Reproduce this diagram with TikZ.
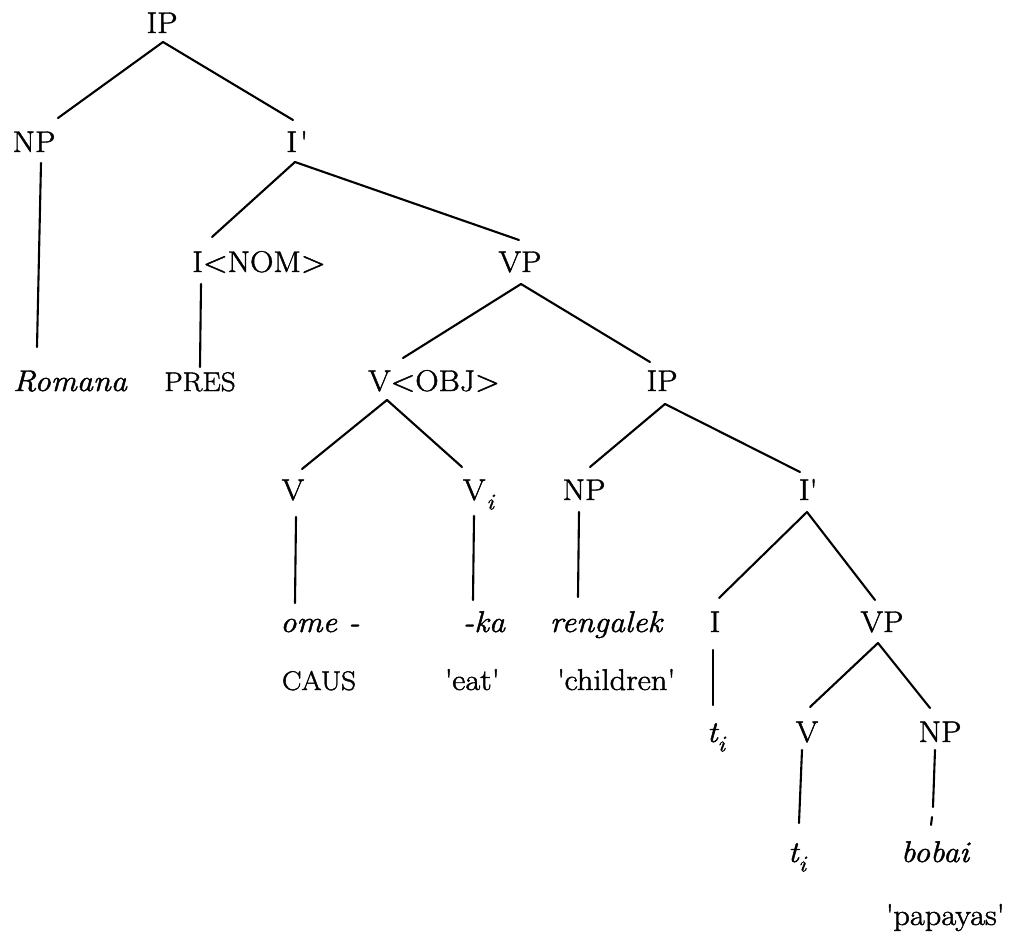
\documentclass[tikz,border=0pt]{standalone}
\usepackage{fontspec}
\setmainfont{Latin Modern Roman}[FakeStretch=1.08,FakeBold=1.5]
\begin{document}
\begin{tikzpicture}[x=1pt,y=-1pt,
  lab/.style={inner sep=0pt,outer sep=0pt,font=\fontsize{30}{35}\selectfont},
  word/.style={lab,font=\fontsize{30}{35}\selectfont\itshape},
  gloss/.style={lab,font=\fontsize{27}{32}\selectfont},
  branch/.style={line width=2.1pt,line cap=round}]
\useasboundingbox[fill=white] (0,0) rectangle (1010,940);
\newcommand{\qs}{\textquotesingle}
\newcommand{\idx}{\raisebox{-0.32em}{\fontsize{23}{23}\selectfont\itshape i}}

% category labels, placed on their baselines
\node[lab,anchor=base] (IPa) at (162,33) {IP};
\node[lab,anchor=base] (NPa) at (34,152) {NP};
\node[lab,anchor=base] (Ibar) at (297,152) {I\kern3pt\qs};
\node[lab,anchor=base] (INOM) at (259,272) {I<NOM>};
\node[lab,anchor=base] (VPa) at (520,272) {VP};
\node[word,anchor=base] (Romana) at (70,391) {Romana};
\node[gloss,anchor=base] (PRES) at (200,391) {PRES};
\node[lab,anchor=base] (VOBJ) at (434,391) {V<OBJ>};
\node[lab,anchor=base] (IPb) at (662,391) {IP};
\node[lab,anchor=base] (Va) at (293,500) {V};
\node[lab,anchor=base west] (Vi) at (463,500) {V\kern1pt\idx};
\node[lab,anchor=base] (NPb) at (584,500) {NP};
\node[lab,anchor=base] (Ibarb) at (808,500) {I\qs};
\node[word,anchor=base] (ome) at (320,632) {ome -};
\node[word,anchor=base] (ka) at (484,632) {-ka};
\node[word,anchor=base] (rengalek) at (606,632) {rengalek};
\node[lab,anchor=base] (Ib) at (715,632) {I};
\node[lab,anchor=base] (VPb) at (882,632) {VP};
\node[gloss,anchor=base] (CAUS) at (319,690) {CAUS};
\node[lab,anchor=base] (eat) at (472,690) {\qs eat\qs};
\node[lab,anchor=base] (children) at (616,690) {\qs children\qs};
\node[word,anchor=base west] (tia) at (707,742) {t\idx};
\node[lab,anchor=base] (Vc) at (807,742) {V};
\node[lab,anchor=base] (NPc) at (940,742) {NP};
\node[word,anchor=base west] (tib) at (788,862) {t\idx};
\node[word,anchor=base] (bobai) at (935,862) {bobai};
\node[lab,anchor=base] (papayas) at (945,925) {\qs papayas\qs};

% branches
\draw[branch] ([shift={(1,9)}]IPa.base) -- ([shift={(24,-34)}]NPa.base);
\draw[branch] ([shift={(1,9)}]IPa.base) -- ([shift={(-4,-32)}]Ibar.base);
\draw[branch] ([shift={(7,11)}]NPa.base) -- ([shift={(-33,-44)}]Romana.base);
\draw[branch] ([shift={(-2,10)}]Ibar.base) -- ([shift={(-47,-35)}]INOM.base);
\draw[branch] ([shift={(-2,10)}]Ibar.base) -- ([shift={(-1,-32)}]VPa.base);
\draw[branch] ([shift={(-58,12)}]INOM.base) -- ([shift={(0,-24)}]PRES.base);
\draw[branch] ([shift={(1,12)}]VPa.base) -- ([shift={(-31,-33)}]VOBJ.base);
\draw[branch] ([shift={(1,12)}]VPa.base) -- ([shift={(-12,-29)}]IPb.base);
\draw[branch] ([shift={(-47,9)}]VOBJ.base) -- ([shift={(9,-31)}]Va.base);
\draw[branch] ([shift={(-47,9)}]VOBJ.base) -- ([shift={(-1,-33)}]Vi.base west);
\draw[branch] ([shift={(3,13)}]IPb.base) -- ([shift={(6,-33)}]NPb.base);
\draw[branch] ([shift={(3,13)}]IPb.base) -- ([shift={(-8,-28)}]Ibarb.base);
\draw[branch] ([shift={(3,17)}]Va.base) -- ([shift={(-25,-29)}]ome.base);
\draw[branch] ([shift={(11,16)}]Vi.base west) -- ([shift={(-11,-32)}]ka.base);
\draw[branch] ([shift={(-5,12)}]NPb.base) -- ([shift={(-28,-35)}]rengalek.base);
\draw[branch] ([shift={(-1,12)}]Ibarb.base) -- ([shift={(4,-34)}]Ib.base);
\draw[branch] ([shift={(-1,12)}]Ibarb.base) -- ([shift={(-7,-32)}]VPb.base);
\draw[branch] ([shift={(-2,18)}]Ib.base) -- ([shift={(6,-37)}]tia.base west);
\draw[branch] ([shift={(-4,11)}]VPb.base) -- ([shift={(3,-35)}]Vc.base);
\draw[branch] ([shift={(-4,11)}]VPb.base) -- ([shift={(-10,-34)}]NPc.base);
\draw[branch] ([shift={(-5,8)}]Vc.base) -- ([shift={(11,-39)}]tib.base west);
\draw[branch] ([shift={(-5,8)}]NPc.base) -- ([shift={(-2,-55)}]bobai.base);
\draw[branch] ([shift={(-3,-45)}]bobai.base) -- ([shift={(-4,-37)}]bobai.base);
\end{tikzpicture}
\end{document}
